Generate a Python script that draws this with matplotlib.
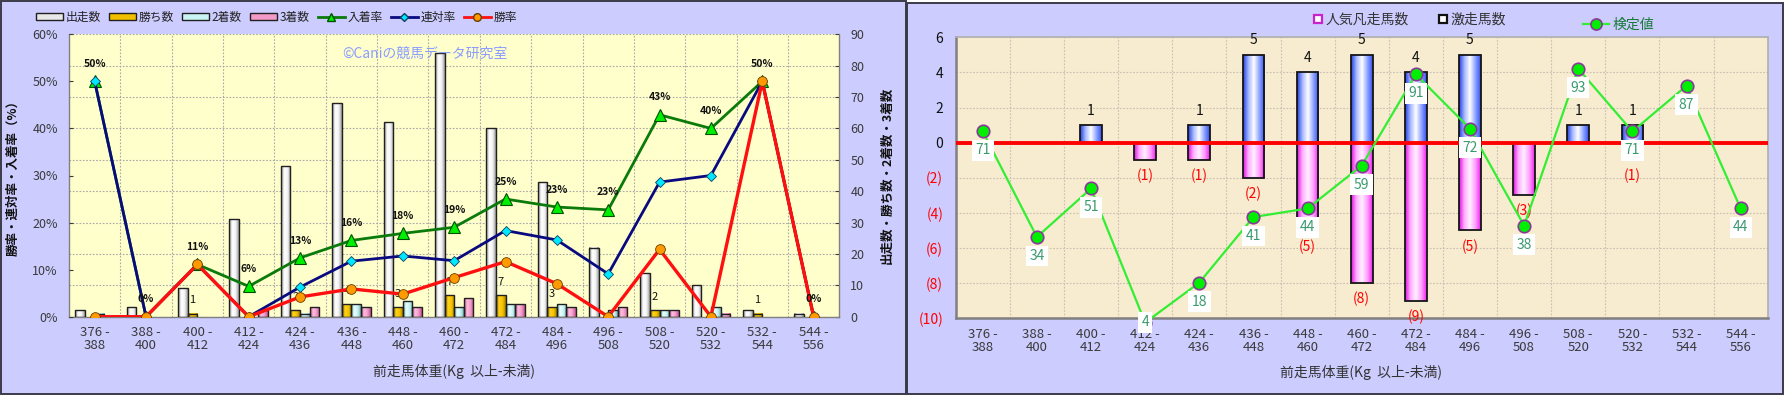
import numpy as np
import matplotlib
matplotlib.use('Agg')
import matplotlib.pyplot as plt
from matplotlib.patches import Rectangle, Patch
from matplotlib.lines import Line2D
from matplotlib.colors import LinearSegmentedColormap
from matplotlib.ticker import FuncFormatter, MultipleLocator

plt.rcParams['font.family'] = ['Noto Sans CJK JP', 'DejaVu Sans']

# ---------------- data ----------------
categories = ['376 -\n388', '388 -\n400', '400 -\n412', '412 -\n424', '424 -\n436',
              '436 -\n448', '448 -\n460', '460 -\n472', '472 -\n484', '484 -\n496',
              '496 -\n508', '508 -\n520', '520 -\n532', '532 -\n544', '544 -\n556']
starts = [2, 3, 9, 31, 48, 68, 62, 84, 60, 43, 22, 14, 10, 2, 1]
wins = [0, 0, 1, 0, 2, 4, 3, 7, 7, 3, 0, 2, 0, 1, 0]
seconds = [1, 0, 0, 0, 1, 4, 5, 3, 4, 4, 2, 2, 3, 0, 0]
thirds = [0, 0, 0, 2, 3, 3, 3, 6, 4, 3, 3, 2, 1, 0, 0]
win_rate = [0, 0, 11.1, 0, 4.2, 5.9, 4.8, 8.3, 11.7, 7.0, 0, 14.3, 0, 50, 0]
rentai_rate = [50, 0, 11.1, 0, 6.3, 11.8, 12.9, 11.9, 18.3, 16.3, 9.1, 28.6, 30, 50, 0]
fukusho_rate = [50, 0, 11.1, 6.45, 12.5, 16.2, 17.7, 19.0, 25.0, 23.3, 22.7, 42.9, 40, 50, 0]

popular_fail = [0, 0, 1, 0, 1, 5, 4, 5, 4, 5, 0, 1, 1, 0, 0]
longshot_run = [0, 0, 0, 1, 1, 2, 5, 8, 9, 5, 3, 0, 1, 0, 0]
kentei = [71, 34, 51, 4, 18, 41, 44, 59, 91, 72, 38, 93, 71, 87, 44]

# ---------------- figure ----------------
W, H = 1790, 395
fig = plt.figure(figsize=(W / 100, H / 100), dpi=100)
fig.patch.set_facecolor('white')


def px_rect(x0, y0, x1, y1):
    return [x0 / W, (H - y1) / H, (x1 - x0) / W, (y1 - y0) / H]


# panels
for (x0, y0, x1, y1) in [(0.8, 0.8, 906, 393.5), (906.5, 2.5, 1783, 393.5)]:
    fig.add_artist(Rectangle((x0 / W, (H - y1) / H), (x1 - x0) / W, (y1 - y0) / H,
                             transform=fig.transFigure, facecolor='#ccccff',
                             edgecolor='#3a3a4a', lw=1.4, zorder=0))


def gradient_bars(ax, bars, colors, z):
    cmap = LinearSegmentedColormap.from_list('g', colors)
    grad = np.linspace(0, 1, 128).reshape(1, -1)
    for b in bars:
        h = b.get_height()
        if h == 0:
            b.set_edgecolor('none')
            continue
        x0, y0 = b.get_xy()
        w = b.get_width()
        ax.imshow(grad, cmap=cmap, extent=(x0, x0 + w, min(y0, y0 + h), max(y0, y0 + h)),
                  aspect='auto', origin='lower', zorder=z, interpolation='bilinear')
        b.set_facecolor('none')
        b.set_zorder(z + 0.1)


tick_col = '#3a3a3a'
grid_kw = dict(color='#a8a8a8', linestyle=(0, (1.5, 1.5)), linewidth=0.8)

# ================= LEFT CHART =================
axL = fig.add_axes(px_rect(69, 34.3, 839.3, 316.7))
axL.set_facecolor('#ffffcc')
x = np.arange(len(categories))
bw = 0.1875
series = [(starts, ['#8c8c8c', '#ffffff', '#f4f4f4', '#9a9a9a']),
          (wins, ['#a07800', '#ffd21a', '#f5c400', '#a88000']),
          (seconds, ['#78b8b8', '#eaffff', '#c8f4f4', '#78b4b4']),
          (thirds, ['#c05090', '#ffc0e0', '#f49ac8', '#c0508c'])]
for k, (vals, cols) in enumerate(series):
    bars = axL.bar(x + (k - 1.5) * bw, vals, width=bw, edgecolor='#202020', linewidth=1.0,
                   zorder=3)
    gradient_bars(axL, bars, cols, 2.5)
axL.set_xlim(-0.5, len(categories) - 0.5)
axL.set_ylim(0, 90)
axL.set_yticks(np.arange(0, 91, 10))
axL.set_xticks(x)
axL.set_xticklabels(categories, linespacing=0.95)
axL.set_xticks(np.arange(0.5, len(categories) - 1, 1), minor=True)
axL.grid(True, which='minor', axis='x', **grid_kw)
axL.grid(True, which='major', axis='y', **grid_kw)
axL.set_axisbelow(True)
axL.tick_params(axis='x', which='both', length=0, pad=7, labelsize=9.5, colors=tick_col)
for s in ['top']:
    axL.spines[s].set_visible(False)
for s in ['left', 'right', 'bottom']:
    axL.spines[s].set_color('#808080')
    axL.spines[s].set_linewidth(1.0)

# win count labels
for i, v in enumerate(wins):
    if v > 0:
        axL.annotate(str(v), (x[i] - 0.5 * bw, v), xytext=(0, 9.5), textcoords='offset points',
                     ha='center', va='center', fontsize=8, color='#111111', zorder=6)

axP = axL.twinx()
# counts on the right, percentages on the left
axL.yaxis.tick_right()
axL.yaxis.set_label_position('right')
axL.tick_params(axis='y', which='both', left=False, labelleft=False, right=True,
                labelright=True, direction='in', length=3, pad=8, labelsize=9, colors=tick_col)
axL.set_ylabel('出走数・勝ち数・2着数・3着数', fontsize=9, fontweight='bold', rotation=90,
               labelpad=12, color='#111111')
axP.yaxis.tick_left()
axP.yaxis.set_label_position('left')
axP.tick_params(axis='y', which='both', right=False, labelright=False, left=True,
                labelleft=True, direction='in', length=3, pad=8, labelsize=9, colors=tick_col)
axP.set_ylim(0, 60)
axP.set_yticks(np.arange(0, 61, 10))
axP.yaxis.set_major_formatter(FuncFormatter(lambda v, p: f'{int(v)}%'))
axP.set_ylabel('勝率・連対率・入着率（%）', fontsize=9, fontweight='bold', labelpad=9,
               color='#111111')
for s in axP.spines.values():
    s.set_visible(False)

axP.plot(x, fukusho_rate, color='#0a7a0a', lw=2.0, marker='^', ms=8.5,
         markerfacecolor='#00ee00', markeredgecolor='#005000', mew=0.8, zorder=4)
axP.plot(x, rentai_rate, color='#0a0a80', lw=2.0, marker='D', ms=5.5,
         markerfacecolor='#00e8ff', markeredgecolor='#104060', mew=0.6, zorder=5)
axP.plot(x, win_rate, color='#ff1010', lw=2.4, marker='o', ms=7,
         markerfacecolor='#ff9a00', markeredgecolor='#6a3a00', mew=0.6, zorder=6)
for i, v in enumerate(fukusho_rate):
    axP.annotate(f'{int(v + 0.5)}%', (x[i], v), xytext=(0, 12.5), textcoords='offset points',
                 ha='center', va='center', fontsize=7.5, fontweight='bold', color='#111111',
                 zorder=7)
axP.set_xlim(-0.5, len(categories) - 0.5)

fig.text(425 / W, 1 - 53.5 / H, '©Caniの競馬データ研究室', fontsize=10, color='#8a9cff',
         ha='center', va='center')
fig.text(454 / W, 1 - 371.7 / H, '前走馬体重(Kg  以上-未満)', fontsize=10, color='#333333',
         ha='center', va='center')

# left legend
def bar_patch(fc):
    return Patch(facecolor=fc, edgecolor='#202020', linewidth=1.0)

handlesL = [bar_patch('#e8e8e8'), bar_patch('#f0c000'), bar_patch('#c8f4f4'),
            bar_patch('#f49ac8'),
            Line2D([], [], color='#0a7a0a', lw=2, marker='^', ms=6,
                   markerfacecolor='#00ee00', markeredgecolor='#005000'),
            Line2D([], [], color='#0a0a80', lw=2, marker='D', ms=4.5,
                   markerfacecolor='#00e8ff', markeredgecolor='#104060'),
            Line2D([], [], color='#ff1010', lw=2, marker='o', ms=5.5,
                   markerfacecolor='#ff9a00', markeredgecolor='#6a3a00')]
labelsL = ['出走数', '勝ち数', '2着数', '3着数', '入着率', '連対率', '勝率']
legL = fig.legend(handlesL, labelsL, loc='center left', bbox_to_anchor=(36 / W, 1 - 17 / H),
                  ncol=7, frameon=False, fontsize=8.5, handlelength=2.3, handleheight=0.55,
                  handletextpad=0.2, columnspacing=0.7, borderaxespad=0, borderpad=0)
for t in legL.get_texts():
    t.set_color('#222222')

# ================= RIGHT CHART =================
axR = fig.add_axes(px_rect(955.7, 37.3, 1767.7, 318.3))
axR.set_facecolor('#f7ebd0')
rb = 0.4
neg_vals = [-v for v in longshot_run]
bars_pos = axR.bar(x, popular_fail, width=rb, edgecolor='#151515', linewidth=1.3, zorder=3)
gradient_bars(axR, bars_pos, ['#2040e0', '#a8b8ff', '#ffffff', '#90a4ff', '#3050ee'], 2.5)
bars_neg = axR.bar(x, neg_vals, width=rb, edgecolor='#151515', linewidth=1.3, zorder=3)
gradient_bars(axR, bars_neg, ['#e010e0', '#ffb0ff', '#fff0ff', '#ffa0ff', '#ee20ee'], 2.5)
axR.axhline(0, color='#ff0000', lw=2.8, zorder=4)
axR.set_xlim(-0.5, len(categories) - 0.5)
axR.set_ylim(-10, 6)
axR.yaxis.set_major_locator(MultipleLocator(2))
axR.yaxis.set_major_formatter(FuncFormatter(
    lambda v, p: f'{int(round(v))}' if v >= 0 else f'({int(round(-v))})'))
axR.set_xticks(x)
axR.set_xticklabels(categories, linespacing=0.95)
axR.set_xticks(np.arange(0.5, len(categories) - 1, 1), minor=True)
axR.grid(True, which='minor', axis='x', color='#c8c0b0', linestyle=(0, (1.5, 1.5)), linewidth=0.8)
axR.grid(True, which='major', axis='y', color='#c8c0b0', linestyle=(0, (1.5, 1.5)), linewidth=0.8)
axR.set_axisbelow(True)
axR.tick_params(axis='x', which='both', length=0, pad=7, labelsize=9.5, colors=tick_col)
axR.tick_params(axis='y', length=0, pad=9, labelsize=10)
for lab, val in zip(axR.get_yticklabels(), axR.get_yticks()):
    lab.set_color('#ff0000' if val < 0 else '#111111')
for s in ['left', 'bottom']:
    axR.spines[s].set_color('#808080')
    axR.spines[s].set_linewidth(1.8)
for s in ['top', 'right']:
    axR.spines[s].set_color('#b0b0b0')
    axR.spines[s].set_linewidth(1.2)

for i, v in enumerate(popular_fail):
    if v > 0:
        axR.annotate(str(v), (x[i], v), xytext=(0, 10.5), textcoords='offset points',
                     ha='center', va='center', fontsize=10, color='#111111', zorder=6)
for i, v in enumerate(longshot_run):
    if v > 0:
        axR.annotate(f'({v})', (x[i], -v), xytext=(0, -11.5), textcoords='offset points',
                     ha='center', va='center', fontsize=10, color='#ff0000', zorder=6)

axK = axR.twinx()
axK.set_ylim(5.5, 104)
axK.set_yticks([])
for s in axK.spines.values():
    s.set_visible(False)
axK.plot(x, kentei, color='#33ee33', lw=1.6, marker='o', ms=9,
         markerfacecolor='#00ee00', markeredgecolor='#8a3a9a', mew=1.2, zorder=5,
         clip_on=False)
axK.set_xlim(-0.5, len(categories) - 0.5)
bottom_px = (H - 318.3)
for i, v in enumerate(kentei):
    dx, dy = axK.transData.transform((x[i], v))
    ly = max(dy - 19, bottom_px - 4)
    axK.annotate(str(v), (x[i], v), xytext=(dx, ly), textcoords='figure pixels',
                 ha='center', va='center', fontsize=10, color='#3a9a6e', zorder=8,
                 bbox=dict(boxstyle='square,pad=0.25', facecolor='white', edgecolor='none'),
                 annotation_clip=False)

fig.text(1361 / W, 1 - 372.7 / H, '前走馬体重(Kg  以上-未満)', fontsize=10, color='#333333',
         ha='center', va='center')

# right legends
handlesR = [Line2D([], [], marker='s', linestyle='none', ms=6, markerfacecolor='white',
                   markeredgecolor='#cc22cc', mew=1.6),
            Line2D([], [], marker='s', linestyle='none', ms=6, markerfacecolor='white',
                   markeredgecolor='#111111', mew=1.6)]
legR = fig.legend(handlesR, ['人気凡走馬数', '激走馬数'], loc='center left',
                  bbox_to_anchor=(1314 / W, 1 - 20 / H), ncol=2, frameon=False, fontsize=10,
                  handlelength=0.6, handletextpad=0.2, columnspacing=2.2, borderaxespad=0,
                  borderpad=0)
for t in legR.get_texts():
    t.set_color('#333333')
legK = fig.legend([Line2D([], [], color='#33ee33', lw=1.6, marker='o', ms=8,
                          markerfacecolor='#00ee00', markeredgecolor='#8a3a9a', mew=1.2)],
                  ['検定値'], loc='center left', bbox_to_anchor=(1583 / W, 1 - 25 / H),
                  frameon=False, fontsize=10, handlelength=1.9, handletextpad=0.2,
                  borderaxespad=0, borderpad=0)
for t in legK.get_texts():
    t.set_color('#1a7a3a')

fig.savefig('out.png', dpi=100, facecolor=fig.get_facecolor())
